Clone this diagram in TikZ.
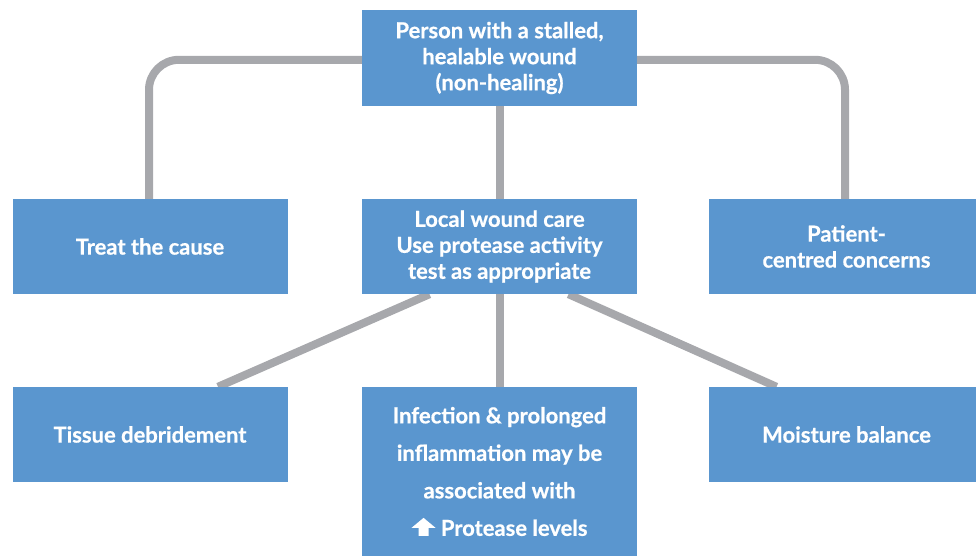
\documentclass[tikz,border=0pt]{standalone}
\usepackage{fontspec}
\setmainfont{Lato}[BoldFeatures={FakeBold=0.6}]
\usetikzlibrary{calc,backgrounds}
\definecolor{boxblue}{HTML}{5A96CF}
\definecolor{linegrey}{HTML}{A7A8AC}
\newcommand{\uparrowicon}{\tikz[x=1pt,y=1pt,baseline=0pt]{\fill[white] (7,0) -- (17,0) -- (17,8) -- (24,8) -- (12,18) -- (0,8) -- (7,8) -- cycle;}}
\begin{document}
\begin{tikzpicture}[x=1pt,y=-1pt,
  box/.style={fill=boxblue, text=white, font=\bfseries\fontsize{22}{26}\selectfont,
    align=center, inner sep=0pt, minimum width=275pt, minimum height=95pt},
  conn/.style={draw=linegrey, line width=8pt}]
\useasboundingbox (0,0) rectangle (976,556);
\node[box, minimum height=96pt] (top) at (499.5,58) {Person with a stalled,\\healable wound\\(non-healing)};
\node[box] (treat) at (150,246.5) {Treat the cause};
\node[box] (local) at (499.5,246.5) {Local wound care\\Use protease activity\\test as appropriate};
\node[box] (patient) at (846.5,246.5) {Patient-\\centred concerns};
\node[box] (debr) at (150,434.5) {Tissue debridement};
\node[box, minimum height=169pt, font=\bfseries\fontsize{22}{37.5}\selectfont] (infect) at (499.5,471.5) {Infection \& prolonged\\inflammation may be\\associated with\\\uparrowicon\ Protease levels};
\node[box] (moist) at (846.5,434.5) {Moisture balance};
\begin{scope}[on background layer]
\draw[conn, rounded corners=30pt] ($(treat.north)+(-1,0)$) -- ++(0,-139) -- ($(patient.north)+(-1.5,-139)$) -- (patient.north -| 845,0);
\draw[conn] (top.south) -- (local.north);
\draw[conn] (local.south) -- (infect.north);
\draw[conn] ($(local.south)+(-70,0)$) -- ($(debr.north)+(68,0)$);
\draw[conn] ($(local.south)+(69,0)$) -- ($(moist.north)+(-70,0)$);
\end{scope}
\end{tikzpicture}
\end{document}
